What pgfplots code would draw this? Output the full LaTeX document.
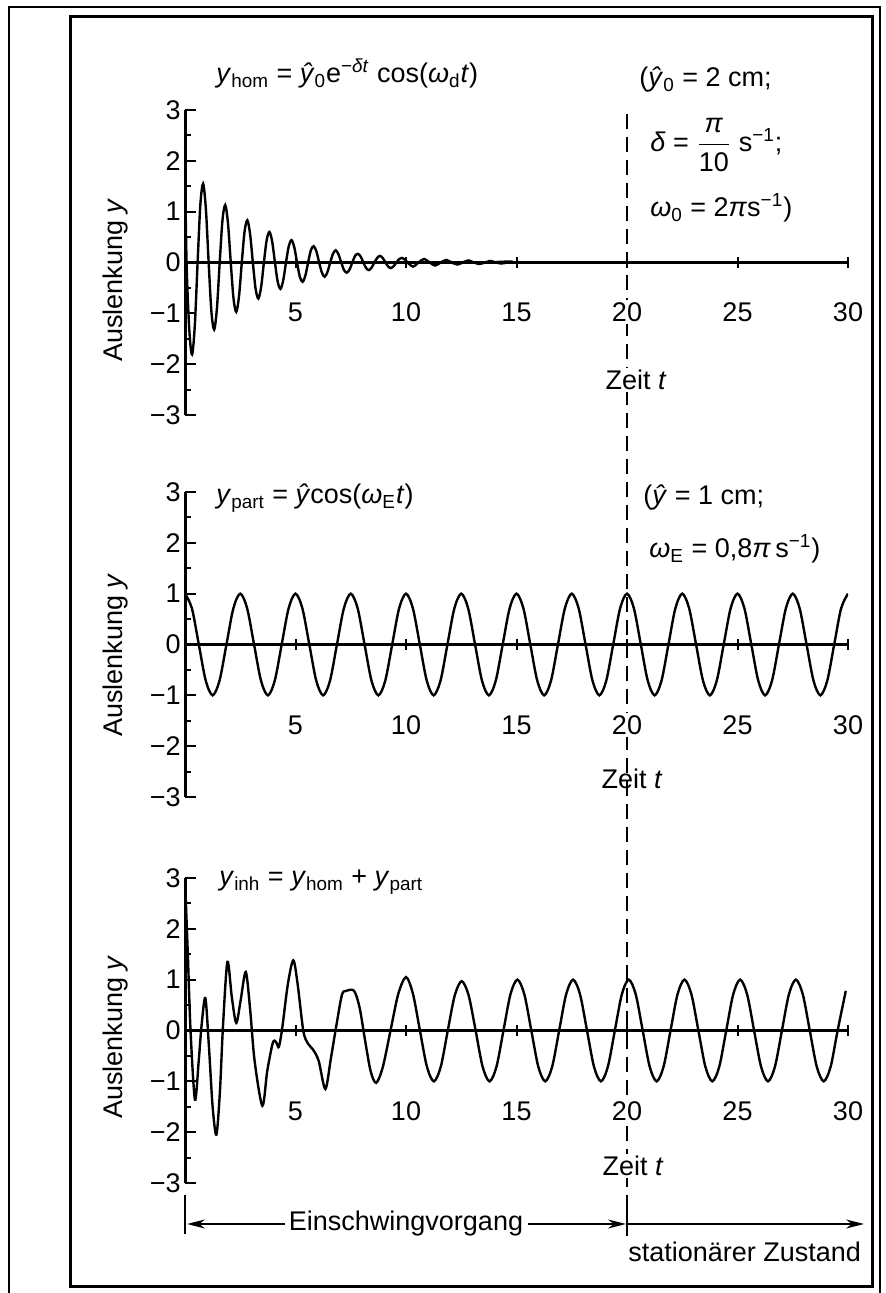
\documentclass[border=0pt]{standalone}
\usepackage{fontspec}
\setmainfont{Liberation Sans}
\usepackage{pgfplots}
\pgfplotsset{compat=1.18}
\usetikzlibrary{arrows.meta}

\newcommand\fs{\fontsize{13.5}{16}\selectfont}

% common look of the three panels
\pgfplotsset{schwing/.style={
    scale only axis, width=331.5pt, height=152.5pt, anchor=south west,
    xmin=0, xmax=30, ymin=-3, ymax=3,
    axis x line*=middle, axis y line*=left,
    hide obscured x ticks=false, hide obscured y ticks=false,
    xtick={5,10,...,30}, xticklabels={5,10,15,20,25,30},
    ytick={-3,-2,...,3}, yticklabels={−3,−2,−1,0,1,2,3},
    minor ytick={-2.5,-1.5,...,2.5},
    xtick align=center, ytick align=inside,
    major tick length=5.5pt, minor tick length=2.75pt,
    every tick/.style={black, line width=1pt},
    axis line style={line width=1.5pt, -},
    tick label style={font=\fs},
    yticklabel style={inner sep=2pt},
    xticklabel style={anchor=center, fill=white, inner sep=1pt},
  },
  kurve/.style={black, line width=1.2pt, smooth, mark=none}}

\begin{document}
\begin{tikzpicture}[font=\fs]
\useasboundingbox (0,0) rectangle (443pt,646.5pt);

\begin{scope}[x=0.5pt,y=0.5pt]
  % frames
  \draw[line width=1.5pt] (70,1276) rectangle (872,6);
  \draw[line width=1.2pt] (9,0) -- (9,1286) -- (880,1286) -- (880,0);
  % dashed marker at t = 20
  \draw[line width=0.8pt, dash pattern=on 7.5pt off 4pt] (627,1179) -- (627,98);
  \draw[line width=0.8pt] (627,98) -- (627,57);
  \draw[line width=0.8pt] (185,98) -- (185,59);
\end{scope}

% --- y_hom ---
\begin{axis}[schwing, at={(92.5pt,439pt)}, xticklabel style={yshift=-22pt}]
\addplot[kurve] coordinates {
(0,2.00) (0.07,0) (0.195,-1.33) (0.32,-1.81) (0.445,-1.23) (0.57,0) (0.695,1.14) (0.82,1.55) (0.945,1.05)
(1.07,0) (1.195,-0.97) (1.32,-1.32) (1.445,-0.90) (1.57,0) (1.695,0.83) (1.82,1.13) (1.945,0.77)
(2.07,0) (2.195,-0.71) (2.32,-0.97) (2.445,-0.66) (2.57,0) (2.695,0.61) (2.82,0.83) (2.945,0.56)
(3.07,0) (3.195,-0.52) (3.32,-0.71) (3.445,-0.48) (3.57,0) (3.695,0.44) (3.82,0.60) (3.945,0.41)
(4.07,0) (4.195,-0.38) (4.32,-0.52) (4.445,-0.35) (4.57,0) (4.695,0.32) (4.82,0.44) (4.945,0.30)
(5.07,0) (5.195,-0.28) (5.32,-0.38) (5.445,-0.26) (5.57,0) (5.695,0.24) (5.82,0.32) (5.945,0.22)
(6.07,0) (6.195,-0.20) (6.32,-0.28) (6.445,-0.19) (6.57,0) (6.695,0.17) (6.82,0.24) (6.945,0.16)
(7.07,0) (7.195,-0.15) (7.32,-0.20) (7.445,-0.14) (7.57,0) (7.695,0.13) (7.82,0.17) (7.945,0.12)
(8.07,0) (8.195,-0.11) (8.32,-0.15) (8.445,-0.10) (8.57,0) (8.695,0.09) (8.82,0.13) (8.945,0.09)
(9.07,0) (9.195,-0.08) (9.32,-0.11) (9.445,-0.07) (9.57,0) (9.695,0.07) (9.82,0.09) (9.945,0.06)
(10.07,0) (10.32,-0.08) (10.57,0) (10.82,0.07) (11.07,0) (11.32,-0.06) (11.57,0) (11.82,0.05)
(12.07,0) (12.32,-0.04) (12.57,0) (12.82,0.04) (13.07,0) (13.32,-0.03) (13.57,0) (13.82,0.03)
(14.07,0) (14.32,-0.02) (14.57,0) (14.82,0.02) (15.07,0) (30,0)
};
\end{axis}

% --- y_part ---
\begin{axis}[schwing, at={(92.5pt,248pt)}, xticklabel style={yshift=-37.5pt}]
\addplot[kurve] coordinates {
(0,1) (0.3125,0.71) (0.625,0) (0.9375,-0.71) (1.25,-1) (1.5625,-0.71) (1.875,0) (2.1875,0.71)
(2.5,1) (2.8125,0.71) (3.125,0) (3.4375,-0.71) (3.75,-1) (4.0625,-0.71) (4.375,0) (4.6875,0.71)
(5,1) (5.3125,0.71) (5.625,0) (5.9375,-0.71) (6.25,-1) (6.5625,-0.71) (6.875,0) (7.1875,0.71)
(7.5,1) (7.8125,0.71) (8.125,0) (8.4375,-0.71) (8.75,-1) (9.0625,-0.71) (9.375,0) (9.6875,0.71)
(10,1) (10.3125,0.71) (10.625,0) (10.9375,-0.71) (11.25,-1) (11.5625,-0.71) (11.875,0) (12.1875,0.71)
(12.5,1) (12.8125,0.71) (13.125,0) (13.4375,-0.71) (13.75,-1) (14.0625,-0.71) (14.375,0) (14.6875,0.71)
(15,1) (15.3125,0.71) (15.625,0) (15.9375,-0.71) (16.25,-1) (16.5625,-0.71) (16.875,0) (17.1875,0.71)
(17.5,1) (17.8125,0.71) (18.125,0) (18.4375,-0.71) (18.75,-1) (19.0625,-0.71) (19.375,0) (19.6875,0.71)
(20,1) (20.3125,0.71) (20.625,0) (20.9375,-0.71) (21.25,-1) (21.5625,-0.71) (21.875,0) (22.1875,0.71)
(22.5,1) (22.8125,0.71) (23.125,0) (23.4375,-0.71) (23.75,-1) (24.0625,-0.71) (24.375,0) (24.6875,0.71)
(25,1) (25.3125,0.71) (25.625,0) (25.9375,-0.71) (26.25,-1) (26.5625,-0.71) (26.875,0) (27.1875,0.71)
(27.5,1) (27.8125,0.71) (28.125,0) (28.4375,-0.71) (28.75,-1) (29.0625,-0.71) (29.375,0) (29.6875,0.71)
(30,1)
};
\end{axis}

% --- y_inh ---
\begin{axis}[schwing, at={(92.5pt,55pt)}, xticklabel style={yshift=-37.5pt}]
\addplot[kurve] coordinates {
(0,2.95) (0.12,1.6) (0.25,0) (0.45,-1.36) (0.62,-0.6) (0.75,0.1) (0.92,0.64)
(1.08,-0.3) (1.25,-1.5) (1.42,-2.05) (1.58,-1.2) (1.72,0.1) (1.92,1.35)
(2.12,0.65) (2.32,0.15) (2.52,0.6) (2.75,1.15) (2.95,0.4) (3.15,-0.6) (3.5,-1.48)
(3.72,-0.8) (3.95,-0.28) (4.05,-0.2) (4.15,-0.25) (4.25,-0.32) (4.4,0.05) (4.65,0.9) (4.9,1.38)
(5.1,0.9) (5.35,0) (5.55,-0.25) (5.8,-0.38) (6.05,-0.6) (6.35,-1.15) (6.6,-0.55) (6.85,0.1)
(7.1,0.7) (7.3,0.78) (7.65,0.78) (7.9,0.45) (8.15,-0.2) (8.4,-0.8) (8.65,-1.03)
(8.95,-0.72) (9.3,0) (9.65,0.72)
(10.0,1.05) (10.315,0.72) (10.63,0) (10.945,-0.71) (11.26,-1.0) (11.575,-0.71) (11.89,0) (12.205,0.69)
(12.52,0.97) (12.835,0.69) (13.15,0) (13.465,-0.71) (13.78,-1.0) (14.095,-0.71) (14.41,0) (14.725,0.71)
(15.04,1.0) (15.355,0.71) (15.67,0) (15.985,-0.71) (16.3,-1.0) (16.615,-0.71) (16.93,0) (17.245,0.71)
(17.56,1.0) (17.875,0.71) (18.19,0) (18.505,-0.71) (18.82,-1.0) (19.135,-0.71) (19.45,0) (19.765,0.71)
(20.08,1.0) (20.395,0.71) (20.71,0) (21.025,-0.71) (21.34,-1.0) (21.655,-0.71) (21.97,0) (22.285,0.71)
(22.6,1.0) (22.915,0.71) (23.23,0) (23.545,-0.71) (23.86,-1.0) (24.175,-0.71) (24.49,0) (24.805,0.71)
(25.12,1.0) (25.435,0.71) (25.75,0) (26.065,-0.71) (26.38,-1.0) (26.695,-0.71) (27.01,0) (27.325,0.71)
(27.64,1.0) (27.955,0.71) (28.27,0) (28.585,-0.71) (28.9,-1.0) (29.215,-0.71) (29.53,0) (29.9,0.78)
};
\end{axis}

\begin{scope}[x=0.5pt,y=0.5pt]
  % axis titles
  \node[rotate=90] at (116,1013) {Auslenkung \textit{y}};
  \node[rotate=90] at (116,638) {Auslenkung \textit{y}};
  \node[rotate=90] at (116,256) {Auslenkung \textit{y}};
  \node[fill=white, inner sep=1pt] at (636,913) {Zeit \textit{t}};
  \node at (632,514) {Zeit \textit{t}};
  \node[fill=white, inner sep=1pt] at (633,127) {Zeit \textit{t}};
  % formulas
  \node[anchor=base west, inner sep=0pt] at (216,1210)
    {\textit{y}\textsubscript{hom} = \textit{ŷ}\textsubscript{0}e\textsuperscript{−\textit{δt}} cos(\textit{ω}\textsubscript{d}\textit{t})};
  \node[anchor=base west, inner sep=0pt] at (639,1206) {(\textit{ŷ}\textsubscript{0} = 2 cm;};
  \node[anchor=base west, inner sep=0pt] at (650,1141)
    {\textit{δ} = $\displaystyle\frac{\mbox{\textit{π}}}{\mbox{10}}$ s\textsuperscript{−1};};
  \node[anchor=base west, inner sep=0pt] at (650,1076) {\textit{ω}\textsubscript{0} = 2\textit{π}s\textsuperscript{−1})};
  \node[anchor=base west, inner sep=0pt] at (216,789)
    {\textit{y}\textsubscript{part} = \textit{ŷ}cos(\textit{ω}\textsubscript{E}\textit{t})};
  \node[anchor=base west, inner sep=0pt] at (643,788) {(\textit{ŷ} = 1 cm;};
  \node[anchor=base west, inner sep=0pt] at (649,735) {\textit{ω}\textsubscript{E} = 0,8\textit{π}\,s\textsuperscript{−1})};
  \node[anchor=base west, inner sep=0pt] at (219,407)
    {\textit{y}\textsubscript{inh} = \textit{y}\textsubscript{hom} + \textit{y}\textsubscript{part}};
  % phases
  \draw[line width=1pt, -{Stealth[length=9pt,width=4.5pt]}] (285,69) -- (187,69);
  \node at (406,69) {Einschwingvorgang};
  \draw[line width=1pt, -{Stealth[length=9pt,width=4.5pt]}] (528,69) -- (626,69);
  \draw[line width=1pt, -{Stealth[length=9pt,width=4.5pt]}] (628,69) -- (864,69);
  \node[anchor=base west, inner sep=0pt] at (628,32) {stationärer Zustand};
\end{scope}
\end{tikzpicture}
\end{document}
